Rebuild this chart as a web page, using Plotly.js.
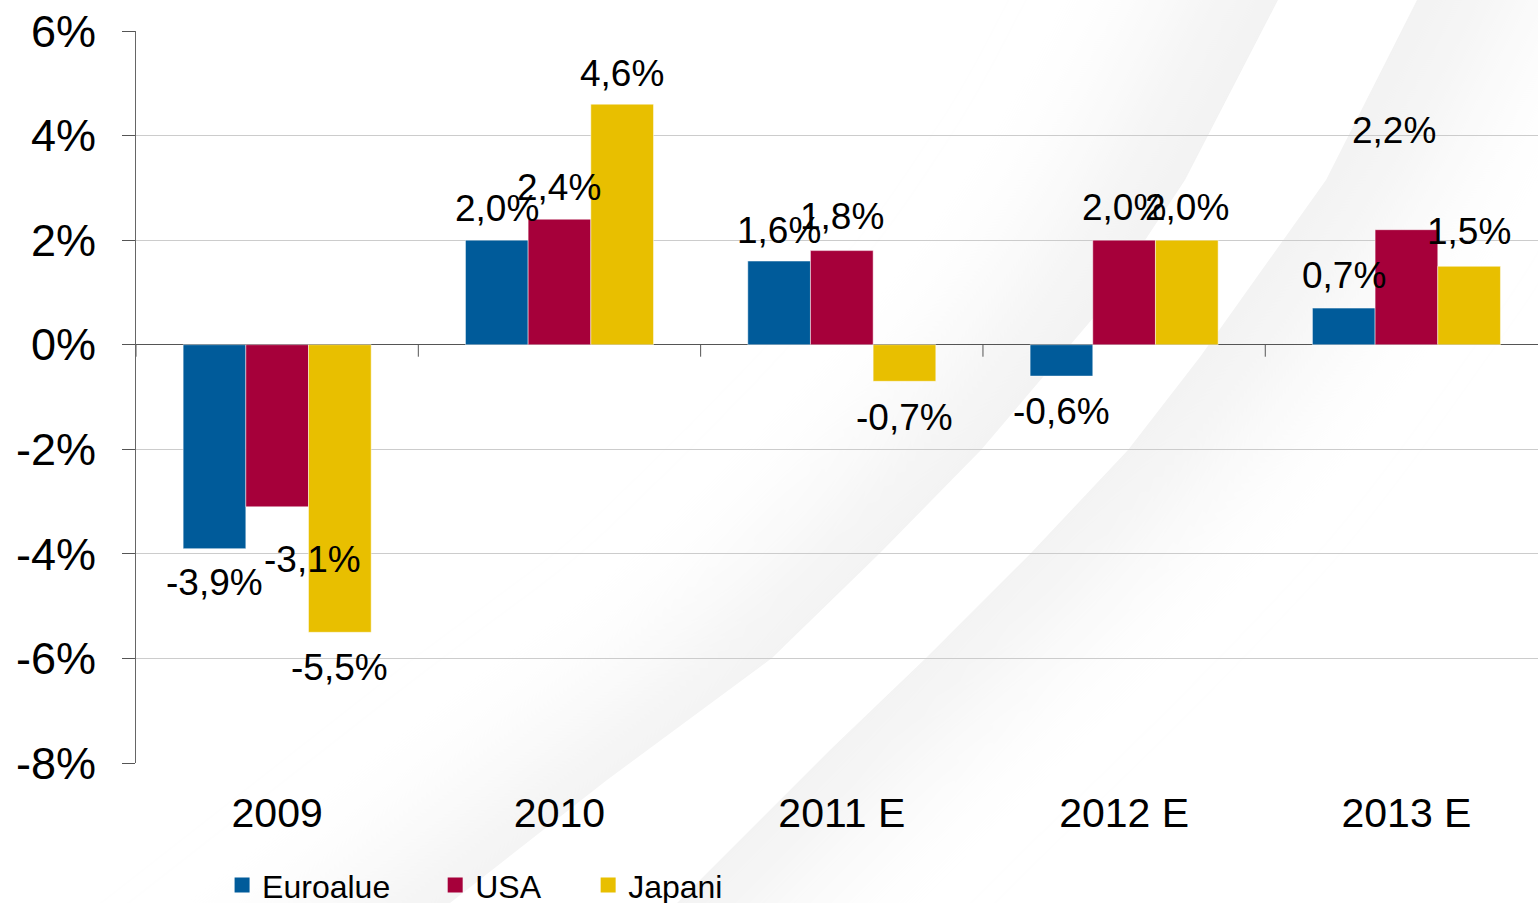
<!DOCTYPE html>
<html>
<head>
<meta charset="utf-8">
<script src="https://cdn.plot.ly/plotly-3.0.1.min.js"></script>
<style>
  html, body { margin: 0; padding: 0; background: #ffffff; }
  #wrap { position: relative; width: 1538px; height: 903px; overflow: hidden; }
  #bg { position: absolute; left: 0; top: 0; }
  #chart { position: absolute; left: 0; top: 0; width: 1538px; height: 903px; }
</style>
</head>
<body>
<div id="wrap">
  <svg id="bg" width="1538" height="903" xmlns="http://www.w3.org/2000/svg">
    <defs>
      <filter id="blur" x="-50%" y="-50%" width="200%" height="200%">
        <feGaussianBlur stdDeviation="60"/>
      </filter>
    </defs>
    <path id="greyband" fill="#f2f2f2" filter="url(#blur)"/>
    <path id="whitestripe" fill="#ffffff"/>
  </svg>
  <div id="chart"></div>
</div>
<script>
// ---- data ----
const categories = ["2009", "2010", "2011 E", "2012 E", "2013 E"];
const euroalue = [-3.9, 2.0, 1.6, -0.6, 0.7];
const usa      = [-3.1, 2.4, 1.8, 2.0, 2.2];
const japani   = [-5.5, 4.6, -0.7, 2.0, 1.5];
const seriesNames = ["Euroalue", "USA", "Japani"];
const yTickValues = [-8, -6, -4, -2, 0, 2, 4, 6];

// ---- styling ----
const colors = ["#005B9A", "#A6003A", "#E8BF00"];
// label offsets (pixels) relative to bar end: [dx, dy(up)]
const labelDx = [
  [0, 0, 0, 0, 0],
  [35, 0, 0, 0, -12],
  [0, 0, 0, 0, 0]
];
const labelDy = [
  [-34, 32, 31, -35, 33],
  [-53, 32, 34, 33, 99],
  [-35, 31, -36, 33, 35]
];

// ---- background swoosh (decoration) ----
(function () {
  const edgeA = [[1278,0],[1185,180],[1094,317],[981,450],[880,553],[772,658],[607,780],[450,903]];
  const edgeB = [[1417,0],[1326,180],[1200,357],[1128,450],[1031,553],[926,658],[830,750],[677,903]];
  function pts(a, dx) { return a.map(p => (p[0] + dx) + "," + p[1]); }
  const top = -200, bot = 1100;
  function ext(a) {
    const f = a[0], s = a[1], l = a[a.length-1], m = a[a.length-2];
    const kt = (f[0]-s[0])/(s[1]-f[1]);
    const kb = (m[0]-l[0])/(l[1]-m[1]);
    return [[f[0] + kt*(f[1]-top), top]].concat(a).concat([[l[0] - kb*(bot-l[1]), bot]]);
  }
  const A = ext(edgeA), B = ext(edgeB);
  const stripe = "M" + pts(A, 0).join(" L") + " L" + pts(B.slice().reverse(), 0).join(" L") + " Z";
  const band = "M" + pts(A, -100).join(" L") + " L" + pts(B.slice().reverse(), 100).join(" L") + " Z";
  document.getElementById("greyband").setAttribute("d", band);
  document.getElementById("whitestripe").setAttribute("d", stripe);
})();

// ---- chart ----
const FONT = "'Liberation Sans', Arial, sans-serif";
const seriesValues = [euroalue, usa, japani];
const bargap = 0.334;
const barFrac = (1 - bargap) / 3;
const fmt = v => v.toFixed(1).replace(".", ",") + "%";

const barTraces = seriesValues.map((vals, s) => ({
  type: "bar",
  name: seriesNames[s],
  x: categories,
  y: vals,
  marker: { color: colors[s], line: { width: 0.8, color: "rgba(255,255,255,0.6)" } },
  showlegend: false,
  hoverinfo: "skip"
}));

// legend-only entries (square keys like the reference)
const legendTraces = seriesNames.map((name, s) => ({
  type: "scatter",
  mode: "markers",
  name: name,
  x: [null], y: [null],
  marker: { symbol: "square", size: 15, color: colors[s] },
  legend: s === 0 ? "legend" : ("legend" + (s + 1)),
  showlegend: true,
  hoverinfo: "skip"
}));

const annotations = [];
seriesValues.forEach((vals, s) => {
  vals.forEach((v, i) => {
    annotations.push({
      x: i + (s - 1) * barFrac,
      y: v,
      xref: "x", yref: "y",
      text: fmt(v),
      showarrow: false,
      xanchor: "center", yanchor: "middle",
      xshift: labelDx[s][i],
      yshift: labelDy[s][i],
      font: { family: FONT, size: 37, color: "#000000" }
    });
  });
});

const shapes = [];
for (let i = 0; i < categories.length; i++) {
  shapes.push({
    type: "line", xref: "x", yref: "y",
    x0: i - 0.5, x1: i - 0.5,
    ysizemode: "pixel", yanchor: 0, y0: 0, y1: -12,
    line: { color: "#555555", width: 1 }
  });
}

const legendBase = {
  orientation: "h",
  yref: "paper", yanchor: "middle",
  y: -0.167,
  xanchor: "left",
  bgcolor: "rgba(0,0,0,0)",
  font: { family: FONT, size: 32, color: "#000000" },
  itemclick: false, itemdoubleclick: false
};

const layout = {
  width: 1538, height: 903,
  margin: { l: 136, r: 0, t: 31, b: 140, pad: 0, autoexpand: false },
  paper_bgcolor: "rgba(0,0,0,0)",
  plot_bgcolor: "rgba(0,0,0,0)",
  font: { family: FONT, color: "#000000" },
  barmode: "group",
  bargap: bargap,
  bargroupgap: 0,
  showlegend: true,
  legend:  Object.assign({}, legendBase, { x: 0.0614 }),
  legend2: Object.assign({}, legendBase, { x: 0.2134 }),
  legend3: Object.assign({}, legendBase, { x: 0.3225 }),
  xaxis: {
    type: "category",
    range: [-0.5, 4.466],
    showgrid: false,
    showline: false,
    zeroline: false,
    ticks: "",
    ticklabelstandoff: 22,
    tickfont: { family: FONT, size: 41, color: "#000000" },
    fixedrange: true
  },
  yaxis: {
    range: [-8, 6],
    tickvals: yTickValues,
    ticktext: yTickValues.map(v => v + "%"),
    showgrid: true,
    gridcolor: "#cccccc",
    gridwidth: 1,
    zeroline: true,
    zerolinecolor: "#555555",
    zerolinewidth: 1.5,
    showline: true,
    linecolor: "#666666",
    linewidth: 1,
    ticks: "outside",
    ticklen: 13,
    tickcolor: "#555555",
    ticklabelstandoff: 17,
    tickfont: { family: FONT, size: 45, color: "#000000" },
    fixedrange: true
  },
  annotations: annotations,
  shapes: shapes
};

Plotly.newPlot("chart", barTraces.concat(legendTraces), layout, { displayModeBar: false, staticPlot: true });
</script>
</body>
</html>
